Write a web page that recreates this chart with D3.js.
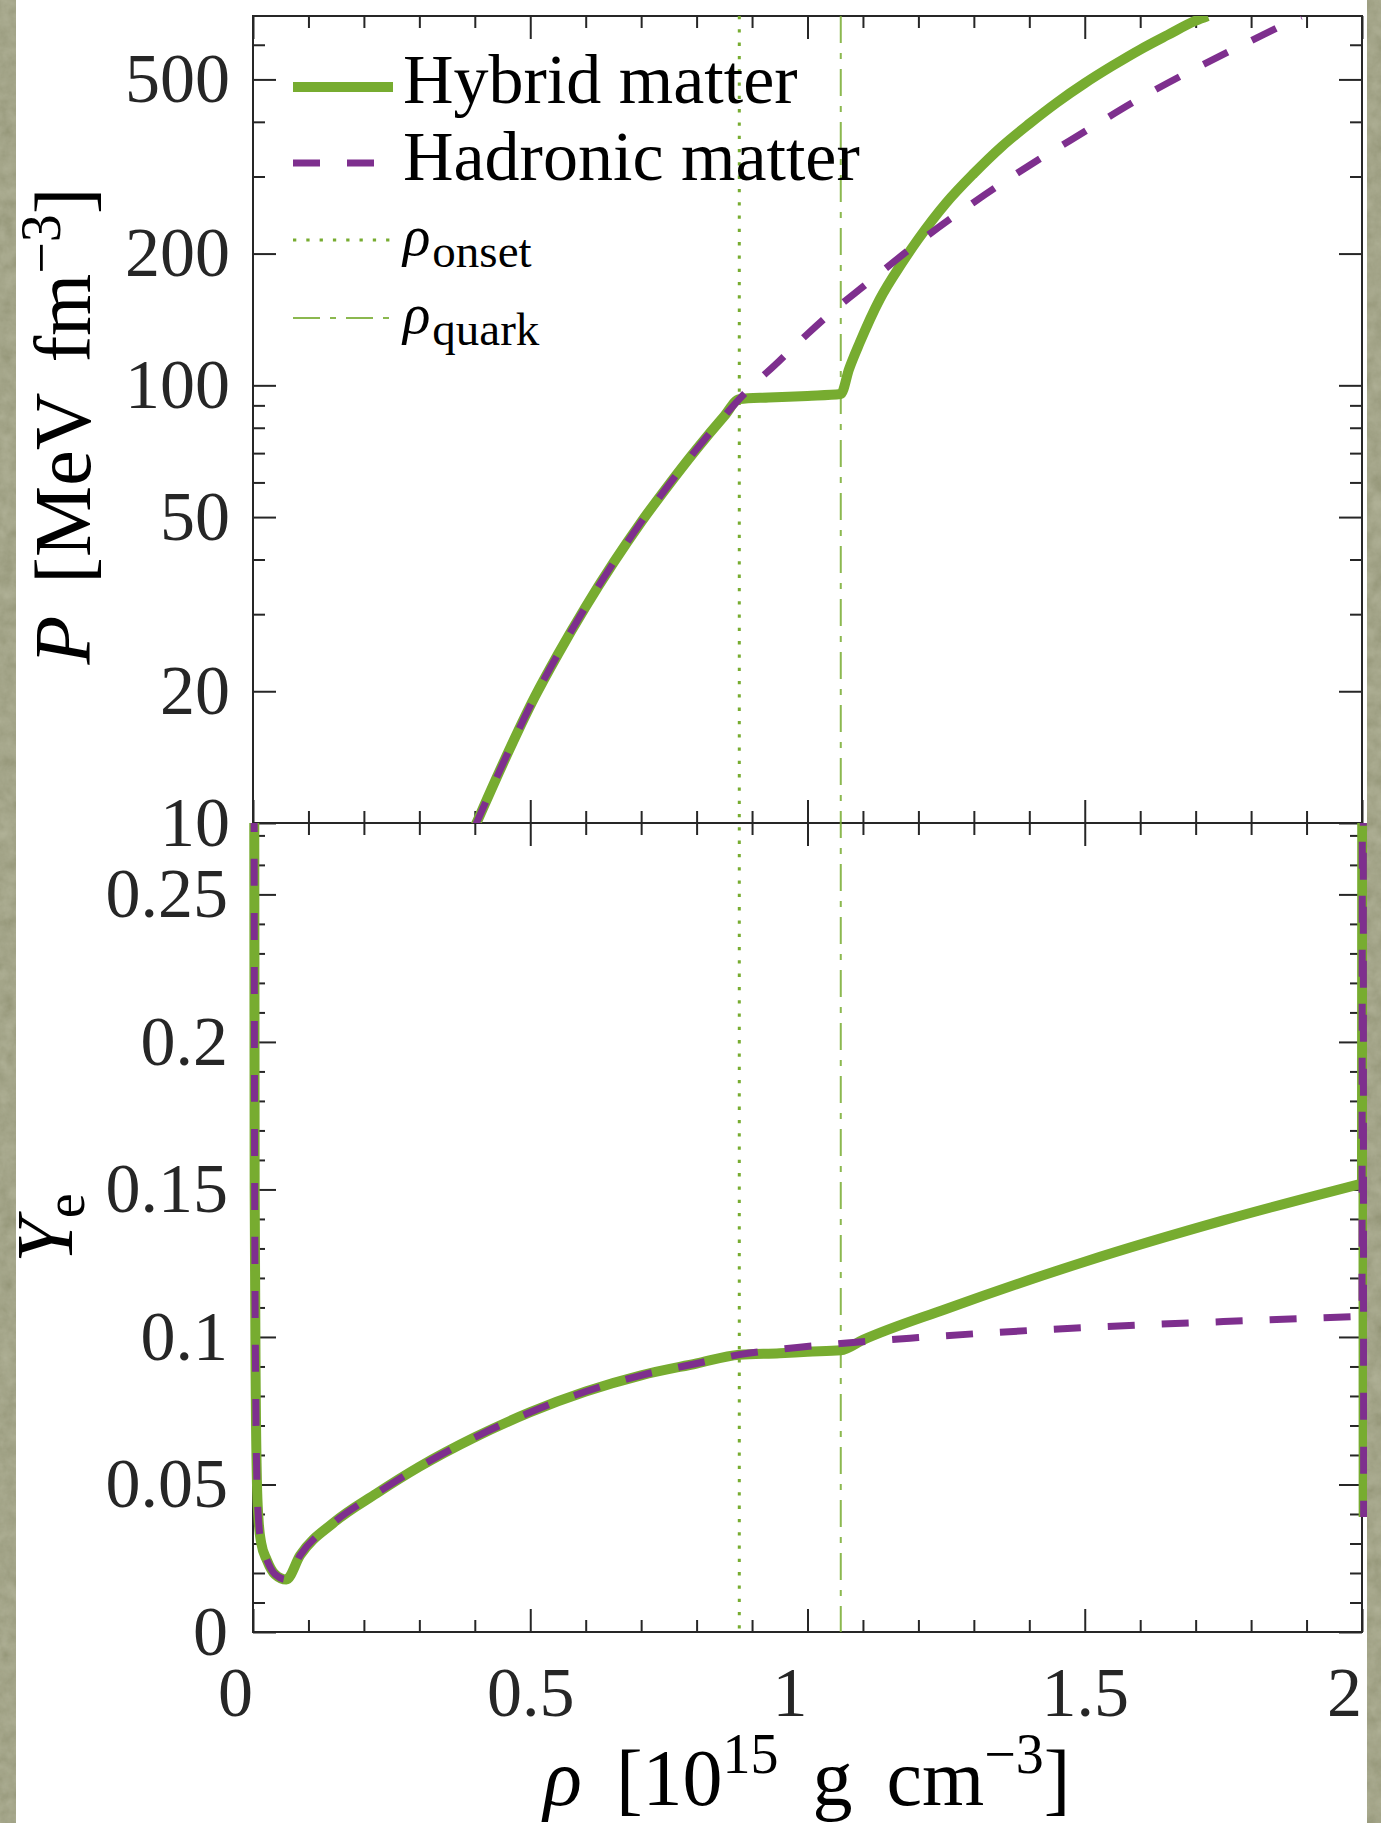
<!DOCTYPE html>
<html><head><meta charset="utf-8">
<script src="https://cdn.jsdelivr.net/npm/d3@7/dist/d3.min.js"></script>
<style>html,body{margin:0;padding:0;background:#fff;} svg{display:block;}</style>
</head><body>
<script>
// ---------------- data ----------------
const rhoP_hybrid = [0.40,0.45,0.508,0.55,0.60,0.65,0.70,0.75,0.80,0.85,0.877,0.93,1.0,1.06,1.075,1.094,1.13,1.17,1.20,1.25,1.30,1.35,1.40,1.45,1.50,1.55,1.60,1.65,1.70,1.722];
const P_hybrid    = [9.8,13.6,19.4,24.3,31.2,39.3,48.7,59.3,71.5,85.1,93,93.8,94.6,95.5,109,125,157,190,216,261,305,351,396,443,490,537,585,632,681,698];
const rhoP_hadronic = [0.40,0.45,0.508,0.55,0.60,0.65,0.70,0.75,0.80,0.85,0.877,0.95,1.0,1.06,1.10,1.20,1.30,1.40,1.50,1.60,1.70,1.80,1.89];
const P_hadronic    = [9.8,13.6,19.4,24.3,31.2,39.3,48.7,59.3,71.5,85.1,93,114,131,153,168,212,262,318,380,453,530,613,697];

const rhoYe_hybrid = [0.001,0.003,0.005,0.007,0.010,0.015,0.025,0.040,0.060,0.085,0.145,0.223,0.30,0.40,0.50,0.60,0.70,0.80,0.877,0.95,1.0,1.06,1.10,1.25,1.5,1.75,2.0,2.0015,2.003];
const Ye_hybrid    = [0.50,0.15,0.08,0.0515,0.038,0.030,0.0244,0.0195,0.0178,0.026,0.037,0.047,0.056,0.066,0.0745,0.0815,0.087,0.091,0.094,0.0945,0.095,0.0955,0.099,0.1095,0.1255,0.1395,0.152,0.60,0.039];
const rhoYe_hadronic = [0.001,0.003,0.005,0.007,0.010,0.015,0.025,0.040,0.060,0.085,0.145,0.223,0.30,0.40,0.50,0.60,0.70,0.80,0.877,0.95,1.06,1.2,1.5,1.75,2.0,2.0015,2.003];
const Ye_hadronic    = [0.50,0.15,0.08,0.0515,0.038,0.030,0.0244,0.0195,0.0178,0.026,0.037,0.047,0.056,0.066,0.0745,0.0815,0.087,0.091,0.094,0.0958,0.0978,0.0998,0.1032,0.1052,0.107,0.60,0.039];

const rhoOnset = 0.877, rhoQuark = 1.06;

const xMajor = [0,0.5,1,1.5,2];
const xLabels = ["0","0.5","1","1.5","2"];
const xMinor = [0.1,0.2,0.3,0.4,0.6,0.7,0.8,0.9,1.1,1.2,1.3,1.4,1.6,1.7,1.8,1.9];
const pMajor = [10,20,50,100,200,500];
const pLabels = ["10","20","50","100","200","500"];
const pMinor = [30,40,60,70,80,90,300,400,600];
const yeMajor = [0,0.05,0.1,0.15,0.2,0.25];
const yeLabels = ["0","0.05","0.1","0.15","0.2","0.25"];
const yeMinor = [0.01,0.02,0.03,0.04,0.06,0.07,0.08,0.09,0.11,0.12,0.13,0.14,0.16,0.17,0.18,0.19,0.21,0.22,0.23,0.24,0.26,0.27];

const legendNames = ["Hybrid matter","Hadronic matter"];
const legendSubs = ["onset","quark"];

// ---------------- layout ----------------
const W = 1381, H = 1823;
const X0 = 253, X1 = 1362, YT = 16, YM = 823, YB = 1632;
const AX = "#262626", GREEN = "#77AC30", PURPLE = "#7E2F8E";
const FONT = "'Liberation Serif', 'Times New Roman', serif";

const x = d3.scaleLinear().domain([0, 2.0]).range([X0, X1]);
const yP = d3.scaleLog().domain([10, 698]).range([YM, YT]);
const yY = d3.scaleLinear().domain([0, 0.2742]).range([YB, YM]);

const svg = d3.select("body").append("svg").attr("width", W).attr("height", H);
const defs = svg.append("defs");
const f = defs.append("filter").attr("id","noise").attr("x",0).attr("y",0).attr("width","100%").attr("height","100%");
f.append("feTurbulence").attr("type","fractalNoise").attr("baseFrequency","0.07").attr("numOctaves",4).attr("seed",5).attr("result","t");
f.append("feColorMatrix").attr("in","t").attr("type","matrix")
  .attr("values","0.3 0.3 0.3 0 0.02  0.3 0.3 0.3 0 0.03  0.3 0.3 0.3 0 -0.05  0 0 0 0 1");
defs.append("clipPath").attr("id","clipTop").append("rect").attr("x",X0-12).attr("y",YT).attr("width",X1-X0+24).attr("height",YM-YT);
defs.append("clipPath").attr("id","clipBot").append("rect").attr("x",X0-12).attr("y",YM).attr("width",X1-X0+24).attr("height",YB-YM);

svg.append("rect").attr("width",W).attr("height",H).attr("fill","#fff");

// ---------------- frames & ticks ----------------
function tickAxis(axisFn, scale, vals, len, labels, pad, tx, ty) {
  const ax = axisFn(scale).tickValues(vals).tickSize(-len).tickSizeOuter(0);
  if (labels) ax.tickFormat((d,i)=>labels[i]).tickPadding(pad); else ax.tickFormat("");
  const g = svg.append("g").attr("transform", `translate(${tx},${ty})`).call(ax);
  g.select(".domain").remove();
  g.selectAll("line").attr("stroke", AX).attr("stroke-width", 2);
  g.selectAll("text").attr("fill", AX).style("font-family", FONT).style("font-size","70px");
  return g;
}
const MJ = 23, MN = 12;
// top panel
tickAxis(d3.axisLeft, yP, pMajor, MJ, pLabels, 23, X0, 0);
tickAxis(d3.axisLeft, yP, pMinor, MN, null, 0, X0, 0);
tickAxis(d3.axisRight, yP, pMajor, MJ, null, 0, X1, 0);
tickAxis(d3.axisRight, yP, pMinor, MN, null, 0, X1, 0);
tickAxis(d3.axisTop, x, xMajor, MJ, null, 0, 0, YT);
tickAxis(d3.axisTop, x, xMinor, MN, null, 0, 0, YT);
tickAxis(d3.axisBottom, x, xMajor, MJ, null, 0, 0, YM);
tickAxis(d3.axisBottom, x, xMinor, MN, null, 0, 0, YM);
// bottom panel
tickAxis(d3.axisLeft, yY, yeMajor, MJ, yeLabels, 25, X0, 0);
tickAxis(d3.axisLeft, yY, yeMinor, MN, null, 0, X0, 0);
tickAxis(d3.axisRight, yY, yeMajor, MJ, null, 0, X1, 0);
tickAxis(d3.axisRight, yY, yeMinor, MN, null, 0, X1, 0);
tickAxis(d3.axisTop, x, xMajor, MJ, null, 0, 0, YM);
tickAxis(d3.axisTop, x, xMinor, MN, null, 0, 0, YM);
const xb = tickAxis(d3.axisBottom, x, xMajor, MJ, xLabels, 34, 0, YB);
xb.selectAll("text").attr("dx", (d,i)=> xLabels[i].indexOf(".")<0 ? -18 : 0);
tickAxis(d3.axisBottom, x, xMinor, MN, null, 0, 0, YB);

svg.append("rect").attr("x",X0).attr("y",YT).attr("width",X1-X0).attr("height",YM-YT)
  .attr("fill","none").attr("stroke",AX).attr("stroke-width",2);
svg.append("rect").attr("x",X0).attr("y",YM).attr("width",X1-X0).attr("height",YB-YM)
  .attr("fill","none").attr("stroke",AX).attr("stroke-width",2);

// ---------------- vertical marker lines ----------------
svg.append("line").attr("x1",x(rhoOnset)).attr("x2",x(rhoOnset)).attr("y1",YT).attr("y2",YB)
  .attr("stroke",GREEN).attr("stroke-width",3).attr("stroke-dasharray","3.3,10");
svg.append("line").attr("x1",x(rhoQuark)).attr("x2",x(rhoQuark)).attr("y1",YT).attr("y2",YB)
  .attr("stroke",GREEN).attr("stroke-width",2).attr("stroke-opacity",0.85).attr("stroke-dasharray","27,10,6,10");

// ---------------- curves ----------------
const lineP = d3.line().x(d=>x(d[0])).y(d=>yP(d[1])).curve(d3.curveMonotoneX);
const lineY = d3.line().x(d=>x(d[0])).y(d=>yY(d[1])).curve(d3.curveMonotoneX);
const lineYlin = d3.line().x(d=>x(d[0])).y(d=>yY(d[1]));

const gTop = svg.append("g").attr("clip-path","url(#clipTop)");
gTop.append("path").datum(d3.zip(rhoP_hybrid, P_hybrid)).attr("d", lineP)
  .attr("fill","none").attr("stroke",GREEN).attr("stroke-width",10).attr("stroke-linejoin","round");
gTop.append("path").datum(d3.zip(rhoP_hadronic, P_hadronic)).attr("d", lineP)
  .attr("fill","none").attr("stroke",PURPLE).attr("stroke-width",7).attr("stroke-dasharray","27,27").attr("stroke-linejoin","round");

// Ye: smooth body + linear tail at the right edge (same series, split for drawing)
function yePath(rhoArr, yeArr) {
  const pts = d3.zip(rhoArr, yeArr);
  const body = pts.slice(0, pts.length - 2);
  const tail = pts.slice(pts.length - 3);
  return lineY(body) + lineYlin(tail).replace(/^M[^L]*/, "L" + tail[0].map((v,i)=> i? yY(v): x(v)).join(","));
}
const gBot = svg.append("g").attr("clip-path","url(#clipBot)");
gBot.append("path").attr("d", yePath(rhoYe_hybrid, Ye_hybrid))
  .attr("fill","none").attr("stroke",GREEN).attr("stroke-width",10).attr("stroke-linejoin","round");
gBot.append("path").attr("d", yePath(rhoYe_hadronic, Ye_hadronic))
  .attr("fill","none").attr("stroke",PURPLE).attr("stroke-width",7).attr("stroke-dasharray","27,27").attr("stroke-linejoin","round");

// ---------------- legend ----------------
const LX0 = 293, LX1 = 393, LT = 403;
const lg = svg.append("g");
lg.append("line").attr("x1",LX0).attr("x2",LX1).attr("y1",87).attr("y2",87).attr("stroke",GREEN).attr("stroke-width",10);
lg.append("line").attr("x1",LX0).attr("x2",LX1).attr("y1",163).attr("y2",163).attr("stroke",PURPLE).attr("stroke-width",7).attr("stroke-dasharray","27,27");
lg.append("line").attr("x1",LX0).attr("x2",LX1).attr("y1",240).attr("y2",240).attr("stroke",GREEN).attr("stroke-width",3).attr("stroke-dasharray","3.3,10");
lg.append("line").attr("x1",LX0).attr("x2",LX1).attr("y1",318).attr("y2",318).attr("stroke",GREEN).attr("stroke-width",2).attr("stroke-opacity",0.85).attr("stroke-dasharray","27,10,6,10");
[103,180].forEach((by,i)=>{
  lg.append("text").attr("x",LT).attr("y",by).attr("fill","#000").style("font-family",FONT).style("font-size","70px").text(legendNames[i]);
});
[255,333].forEach((by,i)=>{
  const t = lg.append("text").attr("x",LT).attr("y",by).attr("fill","#000").style("font-family",FONT);
  t.append("tspan").style("font-size","57px").style("font-style","italic").text("ρ");
  t.append("tspan").attr("dy",12).attr("dx",2).style("font-size","47px").text(legendSubs[i]);
});

// ---------------- axis labels ----------------
const yl = svg.append("text").attr("transform","translate(90,426) rotate(-90)").attr("text-anchor","middle")
  .attr("fill","#000").style("font-family",FONT).style("font-size","80px");
yl.append("tspan").style("font-style","italic").text("P");
yl.append("tspan").attr("dx",32).text("[MeV");
yl.append("tspan").attr("dx",30).text("fm");
yl.append("tspan").attr("dy",-30).style("font-size","56px").text("−3");
yl.append("tspan").attr("dy",30).text("]");

const yl2 = svg.append("text").attr("transform","translate(72,1228) rotate(-90)").attr("text-anchor","middle")
  .attr("fill","#000").style("font-family",FONT).style("font-size","80px");
yl2.append("tspan").style("font-style","italic").text("Y");
yl2.append("tspan").attr("dy",12).style("font-size","56px").text("e");

const xl = svg.append("text").attr("x",807).attr("y",1805).attr("text-anchor","middle")
  .attr("fill","#000").style("font-family",FONT).style("font-size","80px");
xl.append("tspan").style("font-style","italic").text("ρ");
xl.append("tspan").attr("dx",34).text("[10");
xl.append("tspan").attr("dy",-32).style("font-size","56px").text("15");
xl.append("tspan").attr("dy",32).attr("dx",34).text("g");
xl.append("tspan").attr("dx",34).text("cm");
xl.append("tspan").attr("dy",-32).style("font-size","56px").text("−3");
xl.append("tspan").attr("dy",32).text("]");

// ---------------- textured side strips ----------------
[[0,16],[1367,W-1367]].forEach(([sx,sw])=>{
  svg.append("rect").attr("x",sx).attr("y",0).attr("width",sw).attr("height",H).attr("fill","#9a9b78");
  svg.append("rect").attr("x",sx).attr("y",0).attr("width",sw).attr("height",H).attr("filter","url(#noise)").attr("opacity",0.35);
});
</script>
</body></html>
